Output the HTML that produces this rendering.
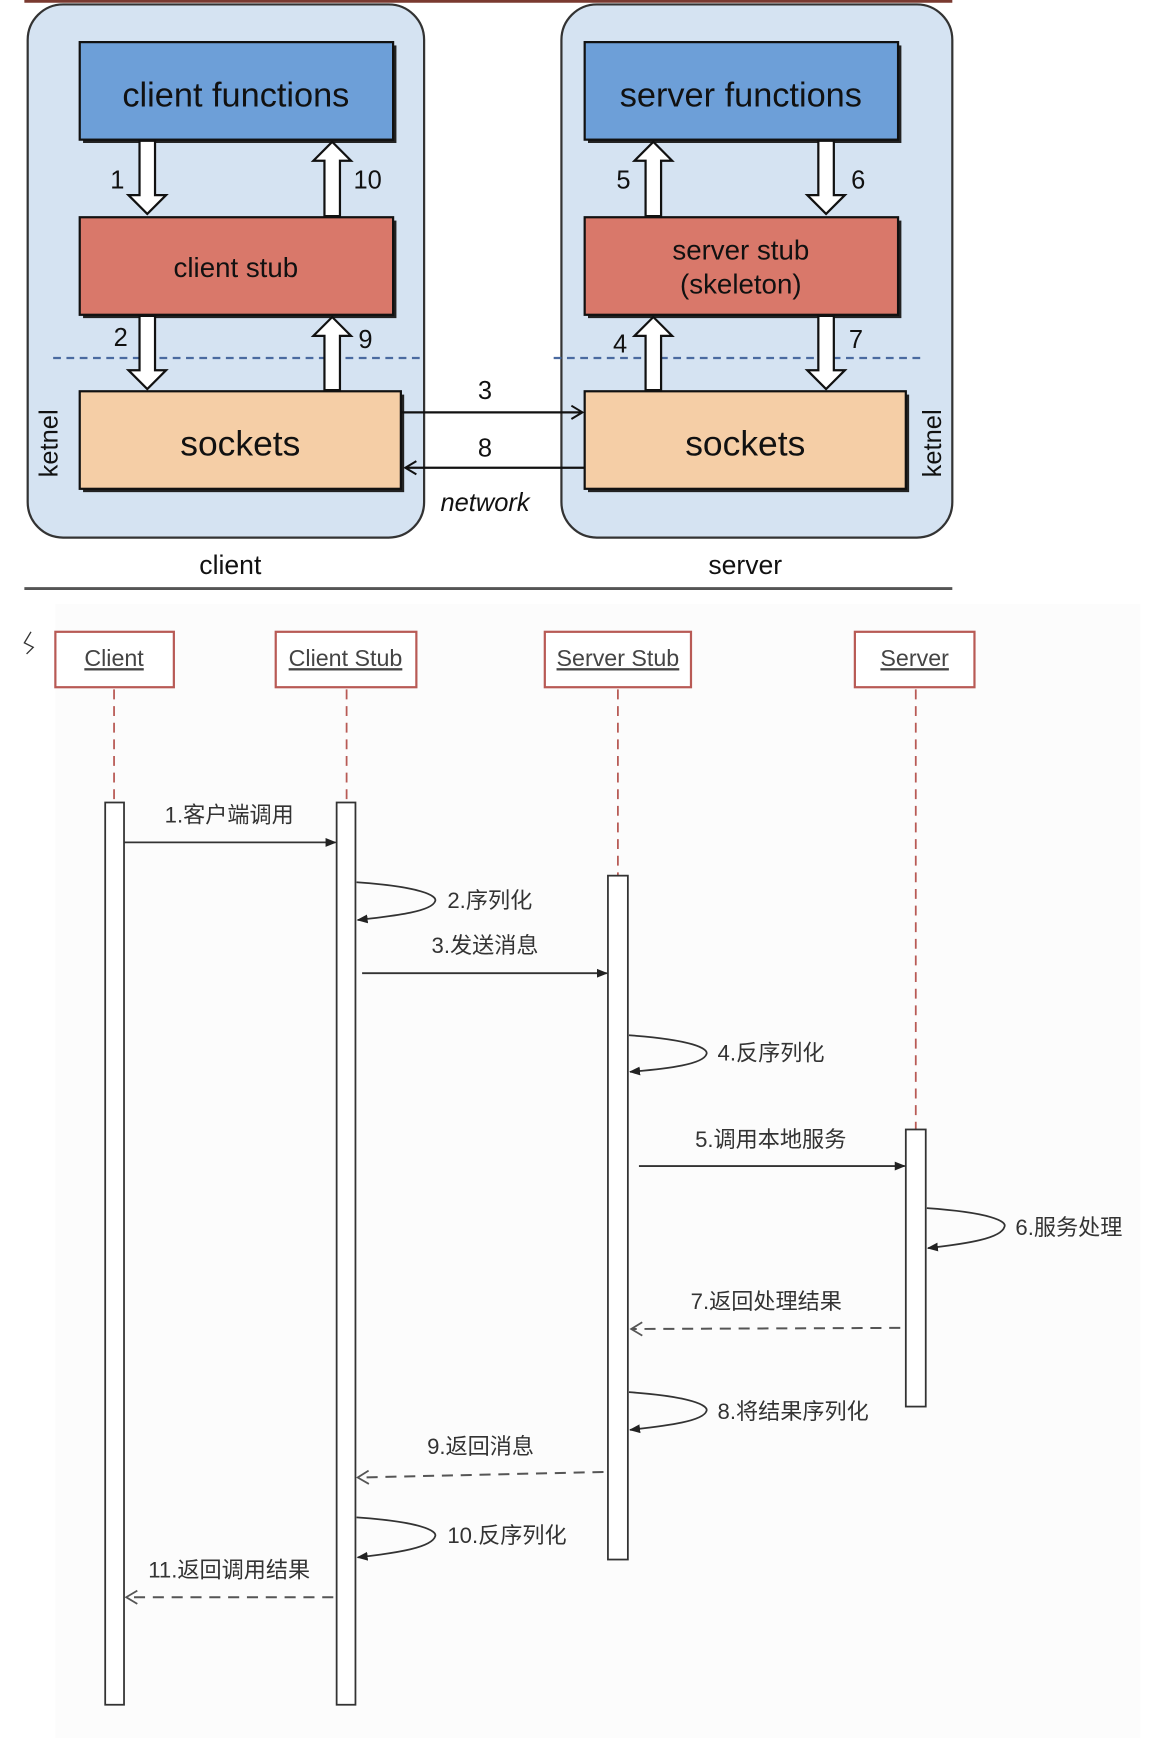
<!DOCTYPE html>
<html><head><meta charset="utf-8"><style>
html,body{margin:0;padding:0;background:#fff;}
svg{display:block;}
.t{font-family:"Liberation Sans","Noto Sans CJK SC",sans-serif;}
</style></head><body>
<svg width="1176" height="1738" viewBox="0 0 1062 1568" preserveAspectRatio="none" xmlns="http://www.w3.org/2000/svg" class="t">
<defs>
<marker id="fa" markerWidth="10" markerHeight="10" refX="9" refY="5" orient="auto" markerUnits="userSpaceOnUse"><path d="M0,1 L10,5 L0,9 Z" fill="#222"/></marker>
<marker id="oa" markerWidth="14" markerHeight="14" refX="12" refY="7" orient="auto" markerUnits="userSpaceOnUse"><path d="M2,1 L12,7 L2,13" fill="none" stroke="#555" stroke-width="1.6" stroke-dasharray="none"/></marker>
<marker id="na" markerWidth="14" markerHeight="14" refX="12" refY="7" orient="auto" markerUnits="userSpaceOnUse"><path d="M2,1 L12,7 L2,13" fill="none" stroke="#111" stroke-width="1.8"/></marker>
</defs>
<rect x="0" y="0" width="1062" height="1568" fill="#fff"/>
<rect x="50" y="545" width="980" height="1023" fill="#fcfcfc"/>
<line x1="22" y1="1" x2="860" y2="1" stroke="#7a3a30" stroke-width="3"/>
<rect x="25" y="4" width="358" height="481" rx="32" fill="#d5e3f2" stroke="#333" stroke-width="2"/>
<rect x="507" y="4" width="353" height="481" rx="32" fill="#d5e3f2" stroke="#333" stroke-width="2"/>
<line x1="48" y1="323" x2="383" y2="323" stroke="#4a6aa0" stroke-width="2" stroke-dasharray="7,5"/>
<line x1="500" y1="323" x2="836" y2="323" stroke="#4a6aa0" stroke-width="2" stroke-dasharray="7,5"/>
<g stroke="#111" stroke-width="2">
<rect x="75" y="41" width="283" height="88" fill="#222" stroke="none"/>
<rect x="72" y="38" width="283" height="88" fill="#6d9fd8"/>
<rect x="75" y="199" width="283" height="88" fill="#222" stroke="none"/>
<rect x="72" y="196" width="283" height="88" fill="#d9786a"/>
<rect x="75" y="356" width="290" height="88" fill="#222" stroke="none"/>
<rect x="72" y="353" width="290" height="88" fill="#f5cea6"/>
<rect x="531" y="41" width="283" height="88" fill="#222" stroke="none"/>
<rect x="528" y="38" width="283" height="88" fill="#6d9fd8"/>
<rect x="531" y="199" width="283" height="88" fill="#222" stroke="none"/>
<rect x="528" y="196" width="283" height="88" fill="#d9786a"/>
<rect x="531" y="356" width="290" height="88" fill="#222" stroke="none"/>
<rect x="528" y="353" width="290" height="88" fill="#f5cea6"/>
</g>
<g fill="#111" text-anchor="middle">
<text x="213" y="96" font-size="31">client functions</text>
<text x="213" y="250" font-size="25">client stub</text>
<text x="217" y="411" font-size="32">sockets</text>
<text x="669" y="96" font-size="31">server functions</text>
<text x="669" y="234" font-size="25">server stub</text>
<text x="669" y="265" font-size="25">(skeleton)</text>
<text x="673" y="411" font-size="32">sockets</text>
</g>
<g fill="#fff" stroke="#111" stroke-width="2" stroke-linejoin="miter">
<path d="M126,127 L140,127 L140,176 L150,176 L133,193 L116,176 L126,176 Z"/>
<path d="M293,195 L307,195 L307,145 L317,145 L300,128 L283,145 L293,145 Z"/>
<path d="M126,285 L140,285 L140,334 L150,334 L133,351 L116,334 L126,334 Z"/>
<path d="M293,352 L307,352 L307,303 L317,303 L300,286 L283,303 L293,303 Z"/>
<path d="M583,195 L597,195 L597,145 L607,145 L590,128 L573,145 L583,145 Z"/>
<path d="M739,127 L753,127 L753,176 L763,176 L746,193 L729,176 L739,176 Z"/>
<path d="M583,352 L597,352 L597,303 L607,303 L590,286 L573,303 L583,303 Z"/>
<path d="M739,285 L753,285 L753,334 L763,334 L746,351 L729,334 L739,334 Z"/>
</g>
<g fill="#111" font-size="23" text-anchor="middle">
<text x="106" y="170">1</text><text x="332" y="170">10</text>
<text x="109" y="312">2</text><text x="330" y="314">9</text>
<text x="563" y="170">5</text><text x="775" y="170">6</text>
<text x="560" y="318">4</text><text x="773" y="314">7</text>
<text x="438" y="360">3</text><text x="438" y="412">8</text>
<text x="438" y="461" font-style="italic">network</text>
<text x="208" y="518" font-size="24">client</text>
<text x="673" y="518" font-size="24">server</text>
<text transform="translate(52,400) rotate(-90)" font-size="23">ketnel</text>
<text transform="translate(850,400) rotate(-90)" font-size="23">ketnel</text>
</g>
<line x1="363" y1="372" x2="526" y2="372" stroke="#111" stroke-width="2" marker-end="url(#na)"/>
<line x1="528" y1="422" x2="366" y2="422" stroke="#111" stroke-width="2" marker-end="url(#na)"/>
<line x1="22" y1="531" x2="860" y2="531" stroke="#555" stroke-width="2.5"/>
<path d="M28,570 L22,580 L30,584 L24,590" fill="none" stroke="#333" stroke-width="1.2"/>
<g fill="#fff" stroke="#b85a55" stroke-width="2">
<rect x="50" y="570" width="107" height="50"/>
<rect x="249" y="570" width="127" height="50"/>
<rect x="492" y="570" width="132" height="50"/>
<rect x="772" y="570" width="108" height="50"/>
</g>
<g fill="#444" font-size="21" text-anchor="middle" text-decoration="underline">
<text x="103" y="601">Client</text>
<text x="312" y="601">Client Stub</text>
<text x="558" y="601">Server Stub</text>
<text x="826" y="601">Server</text>
</g>
<g stroke="#b85a55" stroke-width="1.6" stroke-dasharray="9,6">
<line x1="103" y1="622" x2="103" y2="724"/>
<line x1="313" y1="622" x2="313" y2="724"/>
<line x1="558" y1="622" x2="558" y2="790"/>
<line x1="827" y1="622" x2="827" y2="1019"/>
</g>
<g fill="#fff" stroke="#333" stroke-width="1.6">
<rect x="95" y="724" width="17" height="814"/>
<rect x="304" y="724" width="17" height="814"/>
<rect x="549" y="790" width="18" height="617"/>
<rect x="818" y="1019" width="18" height="250"/>
</g>
<g fill="none" stroke="#333" stroke-width="1.6">
<line x1="112" y1="760" x2="303" y2="760" marker-end="url(#fa)"/>
<line x1="327" y1="878" x2="548" y2="878" marker-end="url(#fa)"/>
<line x1="577" y1="1052" x2="817" y2="1052" marker-end="url(#fa)"/>
<path d="M322,796 C380,800 395,808 393,813 C390,822 360,826 323,830" marker-end="url(#fa)"/>
<path d="M568,934 C625,938 640,946 638,951 C635,960 605,964 569,967" marker-end="url(#fa)"/>
<path d="M837,1090 C895,1094 910,1102 907,1107 C904,1117 875,1122 838,1126" marker-end="url(#fa)"/>
<path d="M568,1256 C625,1260 640,1268 638,1273 C635,1282 605,1286 569,1290" marker-end="url(#fa)"/>
<path d="M322,1369 C380,1373 395,1381 393,1386 C390,1396 360,1401 323,1405" marker-end="url(#fa)"/>
</g>
<g fill="none" stroke="#555" stroke-width="1.8" stroke-dasharray="10,7">
<line x1="813" y1="1198" x2="570" y2="1199" marker-end="url(#oa)"/>
<line x1="545" y1="1328" x2="323" y2="1333" marker-end="url(#oa)"/>
<line x1="301" y1="1441" x2="114" y2="1441" marker-end="url(#oa)"/>
</g>
<g fill="#333" font-size="20" font-family="'Liberation Sans','Noto Sans CJK SC',sans-serif">
<text x="207" y="742" text-anchor="middle">1.客户端调用</text>
<text x="404" y="819">2.序列化</text>
<text x="438" y="860" text-anchor="middle">3.发送消息</text>
<text x="648" y="957">4.反序列化</text>
<text x="696" y="1035" text-anchor="middle">5.调用本地服务</text>
<text x="917" y="1114">6.服务处理</text>
<text x="692" y="1181" text-anchor="middle">7.返回处理结果</text>
<text x="648" y="1280">8.将结果序列化</text>
<text x="434" y="1312" text-anchor="middle">9.返回消息</text>
<text x="404" y="1392">10.反序列化</text>
<text x="207" y="1423" text-anchor="middle">11.返回调用结果</text>
</g>
</svg>
</body></html>
